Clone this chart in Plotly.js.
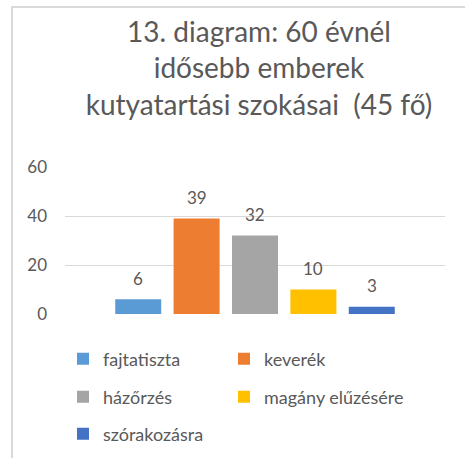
<!DOCTYPE html>
<html>
<head>
<meta charset="utf-8">
<script src="https://cdn.plot.ly/plotly-3.0.1.min.js"></script>
<style>
  html, body { margin: 0; padding: 0; background: #fff; overflow: hidden; }
  #wrap { position: relative; width: 465px; height: 458px; overflow: hidden; }
  #frame { position: absolute; left: 11px; top: 6px; width: 600px; height: 600px;
           border-left: 2px solid #d9d9d9; border-top: 2px solid #d9d9d9; }
  #chart { position: absolute; left: 0; top: 0; width: 465px; height: 458px; }
</style>
</head>
<body>
<div id="wrap">
  <div id="frame"></div>
  <div id="chart"></div>
</div>
<script>
const categories = ["fajtatiszta", "keverék", "házőrzés", "magány elűzésére", "szórakozásra"];
const values = [6, 39, 32, 10, 3];
const colors = ["#5b9bd5", "#ed7d31", "#a5a5a5", "#ffc000", "#4472c4"];
const yTicks = [0, 20, 40, 60];
const titleText = "13. diagram: 60 évnél<br>idősebb emberek<br>kutyatartási szokásai \u00a0(45 fő)";

const textColor = "#595959";
const fontFamily = "Lato, 'Open Sans', sans-serif";

// legend grid: 2 columns, 3 rows
const legendIds = ["legend", "legend2", "legend3", "legend4", "legend5"];
const colX = [63 / 465, 224 / 465];
const rowY = [359, 397, 434];

const traces = categories.map((c, i) => ({
  type: "bar",
  name: c,
  x: [c],
  y: [values[i]],
  marker: { color: colors[i] },
  legend: legendIds[i],
  showlegend: true,
  hoverinfo: "name+y"
}));

const annotations = categories.map((c, i) => ({
  x: c,
  y: values[i],
  xref: "x",
  yref: "y",
  text: String(values[i]),
  showarrow: false,
  yanchor: "middle",
  yshift: 21,
  font: { family: fontFamily, size: 17, color: textColor }
}));

const layout = {
  width: 465,
  height: 458,
  showlegend: true,
  paper_bgcolor: "rgba(0,0,0,0)",
  plot_bgcolor: "rgba(0,0,0,0)",
  margin: { l: 65, r: 20, t: 167, b: 144 },
  font: { family: fontFamily, color: textColor },
  title: {
    text: titleText,
    font: { family: fontFamily, size: 28, color: textColor },
    xref: "container",
    yref: "container",
    x: 259 / 465,
    xanchor: "center",
    y: 1 - 42 / 458,
    yanchor: "top"
  },
  barmode: "overlay",
  bargap: 0.212,
  xaxis: {
    type: "category",
    categoryorder: "array",
    categoryarray: categories,
    range: [-1.254, 5.254],
    showgrid: false,
    zeroline: false,
    showline: false,
    showticklabels: false,
    ticks: "",
    fixedrange: true
  },
  yaxis: {
    range: [0, 60],
    tickvals: yTicks,
    ticktext: yTicks.map(String),
    showgrid: true,
    gridcolor: "#d9d9d9",
    gridwidth: 1,
    zeroline: false,
    showline: false,
    ticks: "",
    ticklabelstandoff: 17,
    tickfont: { family: fontFamily, size: 17, color: textColor },
    fixedrange: true
  },
  annotations: annotations
};

legendIds.forEach((id, i) => {
  layout[id] = {
    visible: true,
    orientation: "h",
    xref: "container",
    yref: "container",
    x: colX[i % 2],
    y: 1 - rowY[Math.floor(i / 2)] / 458,
    xanchor: "left",
    yanchor: "middle",
    font: { family: fontFamily, size: 18, color: textColor },
    bgcolor: "rgba(0,0,0,0)"
  };
});

Plotly.newPlot("chart", traces, layout, { displayModeBar: false, staticPlot: true });
</script>
</body>
</html>
